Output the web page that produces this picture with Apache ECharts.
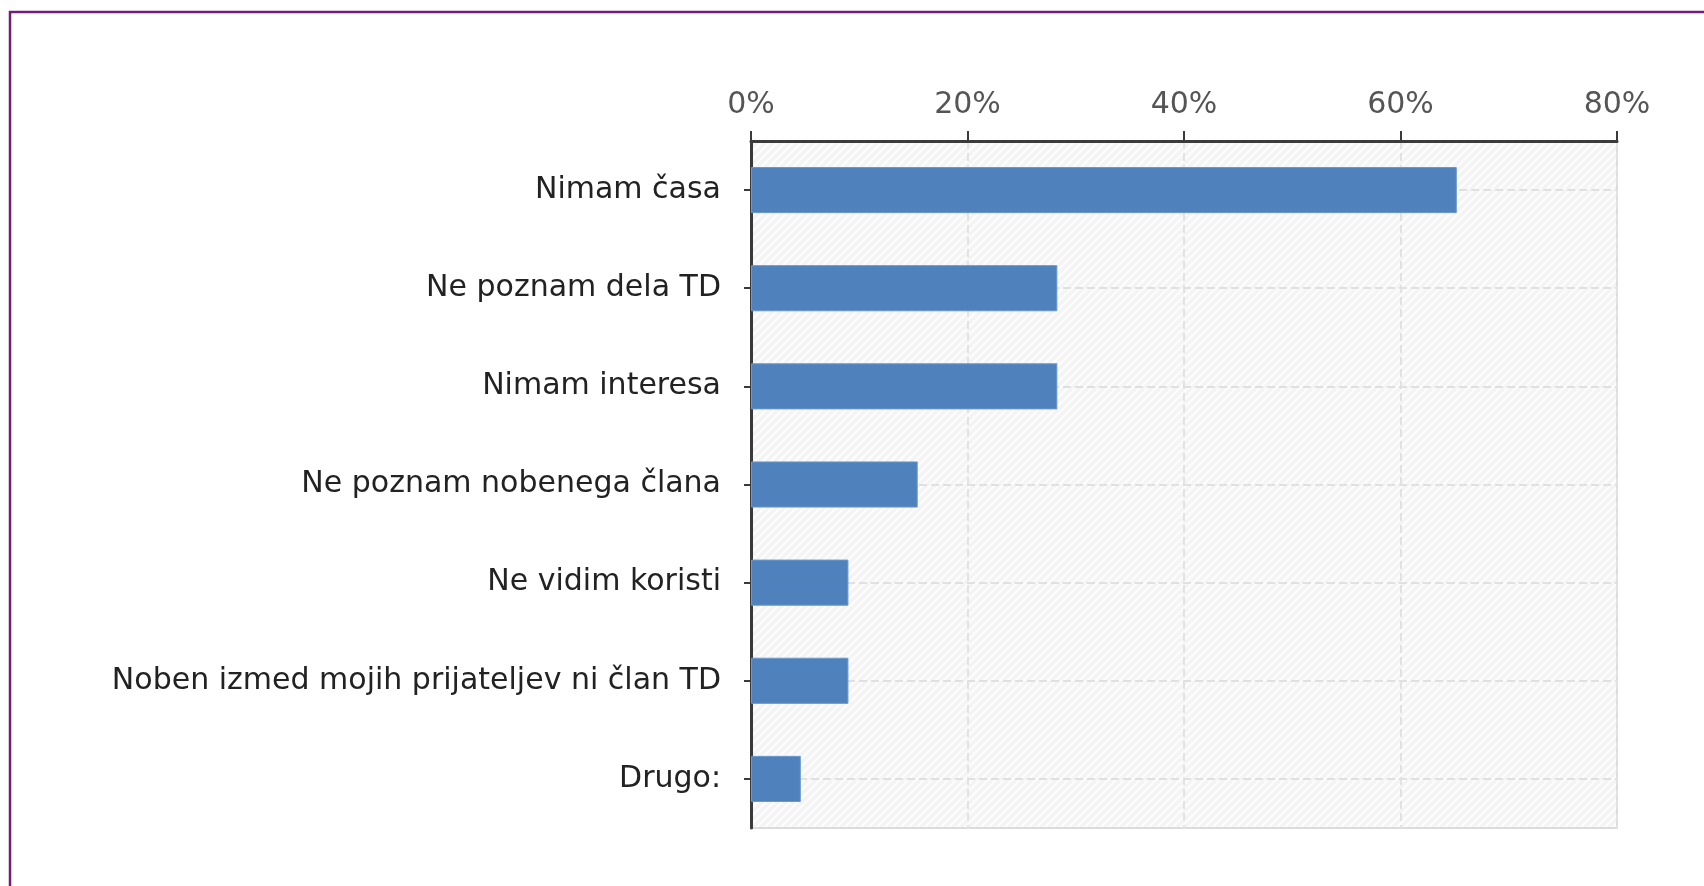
<!DOCTYPE html>
<html>
<head>
<meta charset="utf-8">
<style>
  html, body { margin: 0; padding: 0; background: #fff; }
  #main { width: 1704px; height: 886px; }
</style>
<script src="https://cdn.jsdelivr.net/npm/echarts@6/dist/echarts.min.js"></script>
</head>
<body>
<div id="main"></div>
<script>
const categories = [
    'Nimam časa',
    'Ne poznam dela TD',
    'Nimam interesa',
    'Ne poznam nobenega člana',
    'Ne vidim koristi',
    'Noben izmed mojih prijateljev ni član TD',
    'Drugo:'
];
const values = [65.2, 28.3, 28.3, 15.4, 9.0, 9.0, 4.6];
const xTicks = [0, 20, 40, 60, 80];

// hatched background for the plot area
let hatch = document.createElement('canvas');
hatch.width = 8;
hatch.height = 8;
let hc = hatch.getContext('2d');
hc.fillStyle = '#f4f4f4';
hc.fillRect(0, 0, 8, 8);
hc.strokeStyle = '#fdfdfd';
hc.lineWidth = 2;
hc.beginPath();
hc.moveTo(0, 8); hc.lineTo(8, 0);
hc.moveTo(-4, 4); hc.lineTo(4, -4);
hc.moveTo(4, 12); hc.lineTo(12, 4);
hc.stroke();

const chart = echarts.init(document.getElementById('main'));
const font = 'DejaVu Sans';

const option = {
    animation: false,
    backgroundColor: '#fff',
    graphic: [{
        type: 'rect',
        shape: { x: 10, y: 12, width: 1800, height: 1000 },
        style: { fill: 'none', stroke: '#751b7c', lineWidth: 2.5 },
        z: 10
    }],
    grid: {
        left: 751,
        right: 87,
        top: 141,
        bottom: 58,
        show: true,
        backgroundColor: { image: hatch, repeat: 'repeat' },
        borderColor: '#dcdcdc',
        borderWidth: 2
    },
    xAxis: {
        type: 'value',
        position: 'top',
        min: xTicks[0],
        max: xTicks[xTicks.length - 1],
        interval: 20,
        axisLine: { show: true, lineStyle: { color: '#3a3a3a', width: 3 } },
        axisTick: { show: true, length: 10, lineStyle: { color: '#3a3a3a', width: 2 } },
        axisLabel: {
            formatter: '{value}%',
            margin: 21,
            color: '#555',
            fontFamily: font,
            fontSize: 30
        },
        splitLine: { show: true, lineStyle: { color: '#e2e2e2', type: 'dashed', width: 2 } }
    },
    yAxis: {
        type: 'category',
        inverse: true,
        data: categories,
        axisLine: { show: true, lineStyle: { color: '#3a3a3a', width: 3 } },
        axisTick: { show: true, alignWithLabel: true, length: 7, lineStyle: { color: '#3a3a3a', width: 2 } },
        axisLabel: {
            margin: 30,
            color: '#222',
            fontFamily: font,
            fontSize: 30
        },
        splitLine: { show: false }
    },
    series: [{
        type: 'bar',
        data: values,
        barWidth: '47%',
        z: 3,
        itemStyle: { color: '#4f81bd', borderColor: '#6b97cc', borderWidth: 1 }
    }, {
        type: 'line',
        data: [],
        z: 1,
        markLine: {
            silent: true,
            symbol: 'none',
            z: 1,
            label: { show: false },
            lineStyle: { color: '#e0e0e0', type: 'dashed', width: 2 },
            data: categories.map(c => ({ yAxis: c }))
        }
    }]
};
chart.setOption(option);
</script>
</body>
</html>
